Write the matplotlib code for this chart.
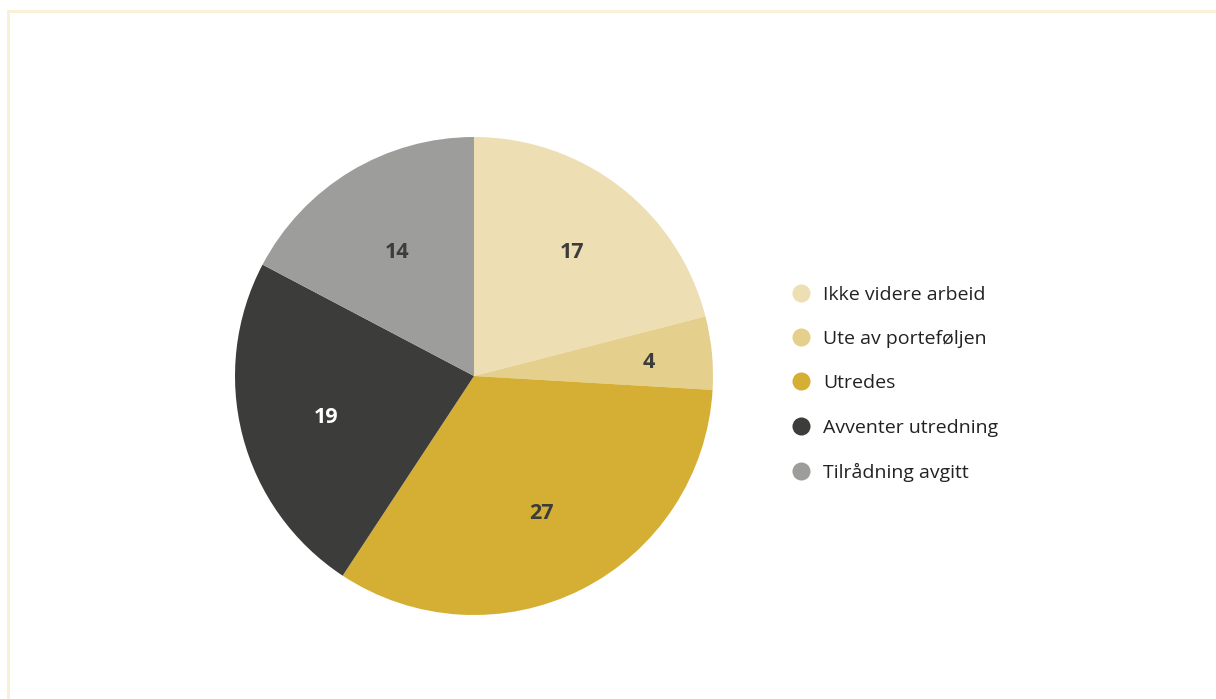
import matplotlib
matplotlib.use("Agg")
import matplotlib.pyplot as plt
from matplotlib.lines import Line2D
from matplotlib.patches import Rectangle
import numpy as np

categories = ["Ikke videre arbeid", "Ute av porteføljen", "Utredes", "Avventer utredning", "Tilrådning avgitt"]
values = [17, 4, 27, 19, 14]
colors = ["#eddfb3", "#e5cf8c", "#d4af34", "#3c3c3a", "#9d9d9b"]
label_colors = ["#3c3c3a", "#3c3c3a", "#3c3c3a", "#ffffff", "#3c3c3a"]
label_radius = [0.67, 0.735, 0.63, 0.64, 0.62]

plt.rcParams['font.family'] = ['Open Sans', 'DejaVu Sans']

W, H = 1216, 699
fig = plt.figure(figsize=(W / 100, H / 100), dpi=100)
fig.patch.set_facecolor("white")

# light border (left and top)
border_color = "#faf0d8"
fig.add_artist(Rectangle((7 / W, 0), 3 / W, (H - 10) / H, transform=fig.transFigure,
                         facecolor=border_color, edgecolor="none"))
fig.add_artist(Rectangle((7 / W, (H - 13) / H), (W - 7) / W, 3 / H, transform=fig.transFigure,
                         facecolor=border_color, edgecolor="none"))

cx, cy, r = 474, 376, 239
ax = fig.add_axes([(cx - r) / W, (H - cy - r) / H, 2 * r / W, 2 * r / H])
wedges, _ = ax.pie(values, colors=colors, startangle=90, counterclock=False,
                   wedgeprops=dict(linewidth=0))
ax.set_xlim(-1, 1)
ax.set_ylim(-1, 1)
ax.set_aspect("equal")
ax.axis("off")

fs = 15.5
for w, v, lc, lr in zip(wedges, values, label_colors, label_radius):
    ang = np.deg2rad((w.theta1 + w.theta2) / 2)
    ax.annotate(str(v), (lr * np.cos(ang), lr * np.sin(ang)), xytext=(0, -0.4 * fs),
                textcoords="offset points", ha="center", va="baseline",
                fontsize=fs, fontweight="bold", color=lc)

handles = [Line2D([0], [0], marker="o", linestyle="none", markersize=13,
                  markerfacecolor=c, markeredgecolor="none") for c in colors]
fig.legend(handles, categories, loc="upper left", bbox_to_anchor=(782 / W, 1 - 278 / H),
           frameon=False, fontsize=14, labelspacing=1.35, handletextpad=0.5,
           labelcolor="#222222", borderaxespad=0, handlelength=1.2)

fig.savefig("out.png", dpi=100, facecolor="white")
